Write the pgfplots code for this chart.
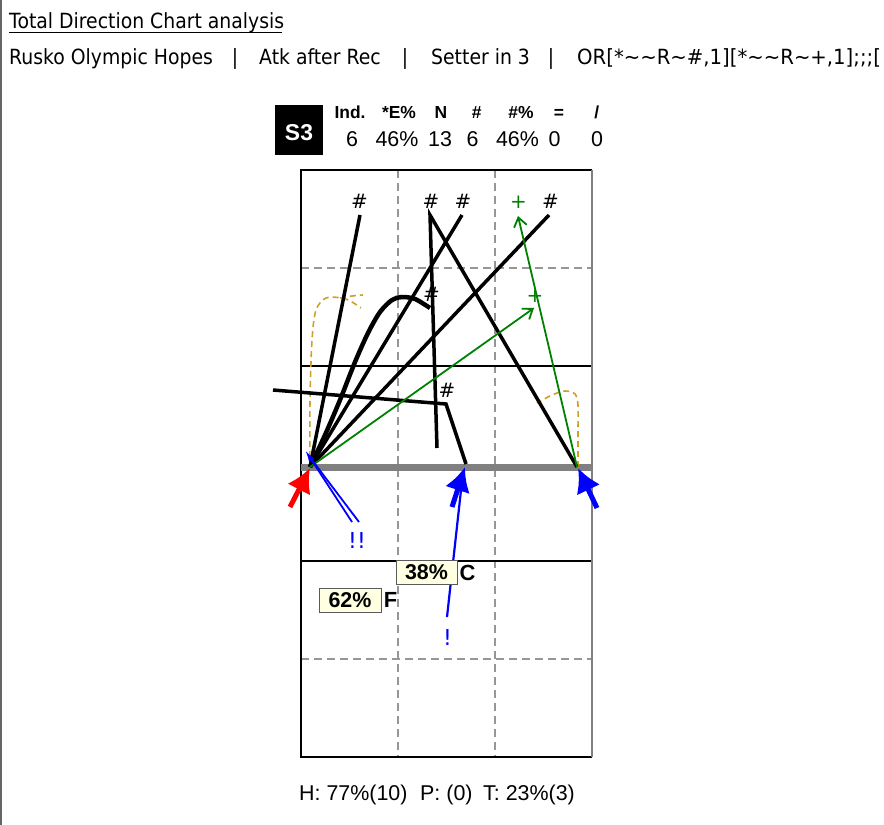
\documentclass[border=0pt]{standalone}
\usepackage{fontspec}
\setmainfont{Liberation Sans}
\newfontfamily\tah{DejaVu Sans}[FakeStretch=0.9]
\newfontfamily\tahw{DejaVu Sans}[FakeStretch=0.94]
\newfontfamily\tahn{DejaVu Sans}
\usepackage{pgfplots}
\pgfplotsset{compat=1.18}
\usetikzlibrary{arrows.meta}
\definecolor{dgreen}{RGB}{0,128,0}
\definecolor{gold}{RGB}{205,160,40}
\definecolor{gridg}{RGB}{150,150,150}
\definecolor{netg}{RGB}{128,128,128}
\definecolor{lyel}{RGB}{255,255,225}
\definecolor{pblue}{RGB}{0,0,255}
\begin{document}
\begin{tikzpicture}
\begin{axis}[at={(0,0)}, scale only axis, width=884bp, height=825bp,
  xmin=0, xmax=884, ymin=0, ymax=825, y dir=reverse, hide axis, clip=false,
  every axis plot/.append style={no markers}]
% page left border
\addplot[color=netg!80!black, line width=1.5bp] coordinates {(0.75,0) (0.75,825)};
% court grid
\addplot[gridg, line width=1.2bp, dash pattern=on 8bp off 5bp] coordinates {(398,170) (398,757)};
\addplot[gridg, line width=1.2bp, dash pattern=on 8bp off 5bp] coordinates {(495,170) (495,757)};
\addplot[gridg, line width=1.2bp, dash pattern=on 8bp off 5bp] coordinates {(301,268) (592,268)};
\addplot[gridg, line width=1.2bp, dash pattern=on 8bp off 5bp] coordinates {(301,659) (592,659)};
\addplot[black, line width=1.2bp] coordinates {(301,366) (592,366)};
\addplot[black, line width=1.2bp] coordinates {(301,561) (592,561)};
\addplot[black, line width=1.2bp] coordinates {(592,170) (301,170) (301,757) (592,757)};
\addplot[netg, line width=2bp] coordinates {(592,170) (592,757)};
% net
\addplot[netg, line width=7bp] coordinates {(301,467) (592,467)};
% gold dashed trajectories
\addplot[gold, line width=1.6bp, dash pattern=on 6bp off 4bp, smooth] coordinates {(310,467) (310,400) (312,340) (316,310) (326,298) (342,298) (352,302) (361,308)};
\addplot[gold, line width=1.6bp, dash pattern=on 6bp off 4bp, smooth] coordinates {(340,298) (352,296) (363,295)};
\addplot[gold, line width=1.6bp, dash pattern=on 6bp off 4bp, smooth] coordinates {(578,467) (578,430) (578,405) (575,394) (565,391) (552,395) (537,403)};
% black attacks
\addplot[black, line width=3.5bp] coordinates {(310,467) (360,215)};
\addplot[black, line width=3.5bp] coordinates {(310,467) (462,215)};
\addplot[black, line width=3.5bp] coordinates {(310,467) (549,215)};
\addplot[black, line width=3.5bp] coordinates {(437,448) (430,215) (577,467)};
\addplot[black, line width=3.5bp] coordinates {(466,464) (446,404) (273,390)};
\addplot[black, line width=4.5bp, smooth] coordinates {(310,467) (325,435) (340,400) (355,362) (368,333) (380,312) (392,300) (402,297) (415,299) (430,308)};
% green attacks
\addplot[dgreen, line width=1.8bp, -{Straight Barb[length=9bp,width=13bp]}] coordinates {(310,467) (534,308)};
\addplot[dgreen, line width=1.8bp, -{Straight Barb[length=9bp,width=13bp]}] coordinates {(577,467) (518,216)};
% blue serve lines
\addplot[pblue, line width=1.8bp, -{Latex[length=12bp,width=6bp]}] coordinates {(352,522) (305,450)};
\addplot[pblue, line width=1.8bp] coordinates {(359,522) (309,456)};
\addplot[pblue, line width=2.2bp] coordinates {(447,617) (463,472)};
% big arrows
\addplot[red, line width=5bp, -{Latex[length=24bp,width=26bp]}] coordinates {(290,507) (310,468)};
\addplot[pblue, line width=5bp, -{Latex[length=24bp,width=26bp]}] coordinates {(452,507) (465,467)};
\addplot[pblue, line width=5bp, -{Latex[length=24bp,width=26bp]}] coordinates {(597,508) (578,468)};
% labels on court
\begin{scope}[font=\tahn\fontsize{20}{22}\selectfont]
\node at (axis cs:359.5,201.5) {\#};
\node at (axis cs:431,201.5) {\#};
\node at (axis cs:463,201.5) {\#};
\node at (axis cs:550.5,201.5) {\#};
\node at (axis cs:431.5,294) {\#};
\node at (axis cs:447,390.5) {\#};
\node[text=dgreen] at (axis cs:518.5,202.5) {+};
\node[text=dgreen] at (axis cs:535,296) {+};
\node[text=pblue, font=\tahn\fontsize{22}{24}\selectfont] at (axis cs:357,541) {!!};
\node[text=pblue, font=\tahn\fontsize{22}{24}\selectfont] at (axis cs:447.5,638) {!};
\end{scope}
\node[draw=netg!70!black, fill=lyel, line width=1bp, minimum width=61bp, minimum height=24bp, inner sep=0pt, font=\bfseries\fontsize{21.5}{24}\selectfont] at (axis cs:426.5,572) {38\%};
\node[draw=netg!70!black, fill=lyel, line width=1bp, minimum width=62bp, minimum height=24bp, inner sep=0pt, font=\bfseries\fontsize{21.5}{24}\selectfont] at (axis cs:350,600) {62\%};
\node[font=\bfseries\fontsize{22}{24}\selectfont] at (axis cs:467.5,573) {C};
\node[font=\bfseries\fontsize{22}{24}\selectfont] at (axis cs:390.5,600) {F};
% header texts
\node[anchor=base west, inner sep=0pt, font=\tah\fontsize{21}{24}\selectfont] (T) at (axis cs:9,28.5) {Total Direction Chart analysis};
\draw[line width=1bp] (axis cs:9,33) -- (axis cs:282,33);
\begin{scope}[font=\tah\fontsize{21}{24}\selectfont]
\node[anchor=base west, inner sep=0pt] at (axis cs:9,65) {Rusko Olympic Hopes};
\node[anchor=base, inner sep=0pt] at (axis cs:235,65) {|};
\node[anchor=base west, inner sep=0pt] at (axis cs:259,65) {Atk after Rec};
\node[anchor=base, inner sep=0pt] at (axis cs:405,65) {|};
\node[anchor=base west, inner sep=0pt] at (axis cs:431,65) {Setter in 3};
\node[anchor=base, inner sep=0pt] at (axis cs:551,65) {|};
\node[anchor=base west, inner sep=0pt, font=\tahw\fontsize{21}{24}\selectfont] at (axis cs:577,65) {OR[*\textasciitilde\textasciitilde R\textasciitilde\#,1][*\textasciitilde\textasciitilde R\textasciitilde+,1];;;[};
\end{scope}
% stats
\node[fill=black, minimum width=48bp, minimum height=50bp, inner sep=0pt] at (axis cs:299,130) {};
\node[anchor=base, text=white, font=\bfseries\fontsize{23}{26}\selectfont, inner sep=0pt] at (axis cs:299,141) {S3};
\begin{scope}[font=\bfseries\fontsize{17.5}{20}\selectfont]
\node[anchor=base, inner sep=0pt] at (axis cs:350,118.3) {Ind.};
\node[anchor=base, inner sep=0pt] at (axis cs:399,118.3) {*E\%};
\node[anchor=base, inner sep=0pt] at (axis cs:441,118.3) {N};
\node[anchor=base, inner sep=0pt] at (axis cs:476.7,118.3) {\#};
\node[anchor=base, inner sep=0pt] at (axis cs:521,118.3) {\#\%};
\node[anchor=base, inner sep=0pt] at (axis cs:559,118.3) {=};
\node[anchor=base, inner sep=0pt] at (axis cs:596.7,118.3) {/};
\end{scope}
\begin{scope}[font=\fontsize{21.5}{24}\selectfont]
\node[anchor=base, inner sep=0pt] at (axis cs:352,146.7) {6};
\node[anchor=base, inner sep=0pt] at (axis cs:397,146.7) {46\%};
\node[anchor=base, inner sep=0pt] at (axis cs:440,146.7) {13};
\node[anchor=base, inner sep=0pt] at (axis cs:472.5,146.7) {6};
\node[anchor=base, inner sep=0pt] at (axis cs:517.5,146.7) {46\%};
\node[anchor=base, inner sep=0pt] at (axis cs:554.5,146.7) {0};
\node[anchor=base, inner sep=0pt] at (axis cs:597,146.7) {0};
\end{scope}
\begin{scope}[font=\fontsize{21.5}{24}\selectfont]
\node[anchor=base west, inner sep=0pt] at (axis cs:299,800.7) {H: 77\%(10)};
\node[anchor=base west, inner sep=0pt] at (axis cs:420,800.7) {P: (0)};
\node[anchor=base west, inner sep=0pt] at (axis cs:483,800.7) {T: 23\%(3)};
\end{scope}
\coordinate (BL) at (axis cs:0,825);
\coordinate (TR) at (axis cs:884,0);
\end{axis}
\pgfresetboundingbox
\path[use as bounding box] (BL) rectangle (TR);
\end{tikzpicture}
\end{document}
